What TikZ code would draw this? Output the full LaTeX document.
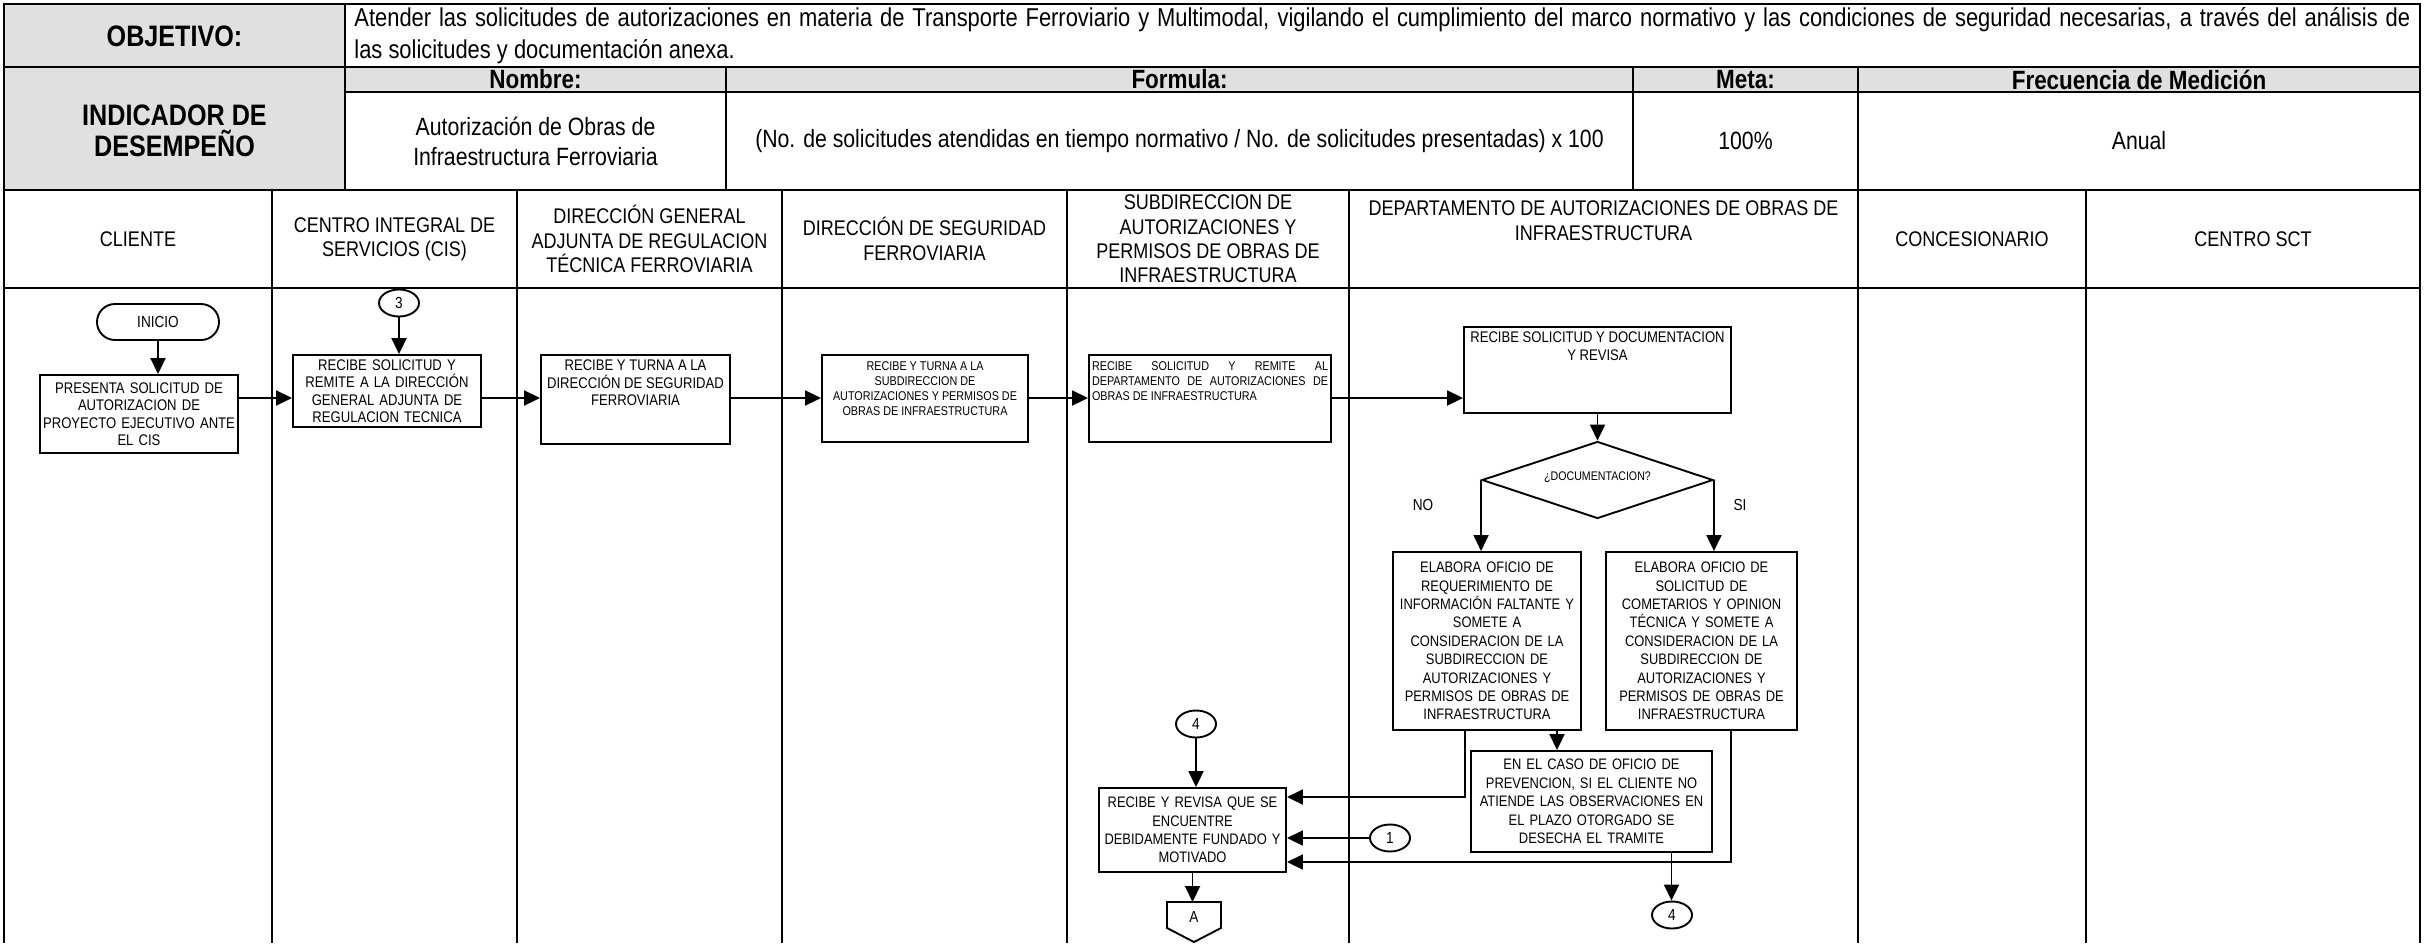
\documentclass[tikz,border=0pt]{standalone}
\usepackage{fontspec}
\setmainfont{Liberation Sans}[FakeStretch=0.85]
\usetikzlibrary{arrows.meta, shapes.geometric}
\definecolor{cellgray}{rgb}{0.88, 0.88, 0.88}

\tikzset{
    rule/.style={line width=1.3pt},
    lane/.style={line width=1.1pt},
    proc/.style={draw, line width=0.95pt, inner sep=1pt, align=center, font=\fontsize{7.7}{8.75}\selectfont},
    tallproc/.style={proc, font=\fontsize{7.6}{9.2}\selectfont},
    topproc/.style={draw, line width=0.95pt, inner sep=1.5pt},
    conn/.style={draw, ellipse, line width=0.95pt, minimum width=20pt, minimum height=13.5pt, inner sep=0pt, font=\fontsize{8}{8}\selectfont},
    flow/.style={line width=0.95pt, -{Triangle[length=8pt, width=7.5pt]}},
    celltitle/.style={align=center, font=\fontsize{14.8}{15.5}\selectfont\bfseries},
    colhead/.style={font=\fontsize{13.2}{14}\selectfont\bfseries},
    coldata/.style={align=center, font=\fontsize{12.5}{15}\selectfont},
    lanehead/.style={align=center, font=\fontsize{10.6}{12.2}\selectfont},
}

\begin{document}
\begin{tikzpicture}[x=0.5pt, y=-0.5pt]
\useasboundingbox (0,0) rectangle (2425,943);

% Table of the indicator
\fill[cellgray] (4,4) rectangle (345,190);
\fill[cellgray] (345,67) rectangle (2420,92);
\draw[rule] (4,943) -- (4,4) -- (2420,4) -- (2420,943);
\draw[rule] (4,67) -- (2420,67);
\draw[rule] (345,4) -- (345,190);
\draw[rule] (345,92) -- (2420,92);
\foreach \x in {726,1633} \draw[rule] (\x,67) -- (\x,190);
\draw[rule] (1858,67) -- (1858,190);
\draw[rule] (4,190) -- (2420,190);
\draw[rule] (4,288) -- (2420,288);

% Lanes
\foreach \x in {272,517,782,1067,1349,1858,2086} \draw[lane] (\x,190) -- (\x,943);

\node[celltitle] (objLbl) at (174.5,36) {OBJETIVO:};
\node[anchor=north west, text width=1028pt, align=justify, inner sep=0pt, font=\fontsize{12.9}{16}\selectfont] (objTxt) at (354,7)
    {Atender las solicitudes de autorizaciones en materia de Transporte Ferroviario y Multimodal, vigilando el cumplimiento del marco normativo y las condiciones de seguridad necesarias, a través del análisis de\linebreak las solicitudes y documentación anexa.};

\node[celltitle] (indLbl) at (174.5,131) {INDICADOR DE\\DESEMPEÑO};
\node[colhead] (hNombre) at (535.5,79.5) {Nombre:};
\node[colhead] (hFormula) at (1179.5,79.5) {Formula:};
\node[colhead] (hMeta) at (1745.5,79.5) {Meta:};
\node[colhead] (hFrec) at (2139,79.5) {Frecuencia de Medición};
\node[coldata] (dNombre) at (535.5,141) {Autorización de Obras de\\Infraestructura Ferroviaria};
\node[coldata] (dFormula) at (1179.5,141) {(No. de solicitudes atendidas en tiempo normativo / No. de solicitudes presentadas) x 100};
\node[coldata] (dMeta) at (1745.5,141) {100\%};
\node[coldata] (dFrec) at (2139,141) {Anual};

% Lane headers
\node[lanehead] (lCliente) at (138,239) {CLIENTE};
\node[lanehead] (lCis) at (394.5,239) {CENTRO INTEGRAL DE\\SERVICIOS (CIS)};
\node[lanehead] (lDga) at (649.5,239) {DIRECCIÓN GENERAL\\ADJUNTA DE REGULACION\\TÉCNICA FERROVIARIA};
\node[lanehead] (lDsf) at (924.5,239) {DIRECCIÓN DE SEGURIDAD\\FERROVIARIA};
\node[lanehead] (lSub) at (1208,239) {SUBDIRECCION DE\\AUTORIZACIONES Y\\PERMISOS DE OBRAS DE\\INFRAESTRUCTURA};
\node[lanehead, anchor=north] (lDept) at (1603.5,194) {DEPARTAMENTO DE AUTORIZACIONES DE OBRAS DE\\INFRAESTRUCTURA};
\node[lanehead] (lConc) at (1972,239) {CONCESIONARIO};
\node[lanehead] (lSct) at (2253,239) {CENTRO SCT};

% Flow
\coordinate (rowY) at (0,398);
\node[draw, line width=0.95pt, rounded corners=9pt, minimum width=61pt, minimum height=18pt, font=\fontsize{8}{8}\selectfont] (inicio) at (158,322) {INICIO};
\node[proc, minimum width=99pt, minimum height=39pt, text width=97.5pt, inner sep=0.5pt] (presenta) at (139,414)
    {PRESENTA SOLICITUD DE\\AUTORIZACION DE\\PROYECTO EJECUTIVO ANTE\\EL CIS};
\node[conn] (c3) at (399,303) {3};
\node[proc, minimum width=94pt, minimum height=36pt, text width=91pt] (recibeSol) at (387,391)
    {RECIBE SOLICITUD Y\\REMITE A LA DIRECCIÓN\\GENERAL ADJUNTA DE\\REGULACION TECNICA};
\node[topproc, font=\fontsize{7.7}{8.75}\selectfont] (turnaDir) at (635.5,399.5)
    {\parbox[c][41.5pt][t]{91.5pt}{\centering\vspace{1pt}RECIBE Y TURNA A LA\\DIRECCIÓN DE SEGURIDAD\\FERROVIARIA}};
\node[topproc, font=\fontsize{6.35}{7.5}\selectfont] (turnaSub) at (925,398.5)
    {\parbox[c][40.5pt][t]{100pt}{\centering\vspace{2pt}RECIBE Y TURNA A LA\\SUBDIRECCION DE\\AUTORIZACIONES Y PERMISOS DE\\OBRAS DE INFRAESTRUCTURA}};
\node[topproc, font=\fontsize{6.35}{7.5}\selectfont] (remite) at (1210,398.5)
    {\parbox[c][40.5pt][t]{118pt}{\vspace{2pt}RECIBE SOLICITUD Y REMITE AL\linebreak DEPARTAMENTO DE AUTORIZACIONES DE\linebreak OBRAS DE INFRAESTRUCTURA}};
\node[topproc, font=\fontsize{7.7}{8.75}\selectfont] (revisa) at (1597.5,370)
    {\parbox[c][40pt][t]{130.5pt}{\centering\vspace{1pt}RECIBE SOLICITUD Y DOCUMENTACION\\Y REVISA}};
\node[draw, diamond, aspect=3, line width=0.95pt, minimum width=115.5pt, minimum height=38.5pt, inner sep=0pt, font=\fontsize{6.25}{7}\selectfont] (doc) at (1597.5,480)
    {\raisebox{4pt}{¿DOCUMENTACION?}};
\node[font=\fontsize{8}{8}\selectfont] (lblNo) at (1423,505) {NO};
\node[font=\fontsize{8}{8}\selectfont] (lblSi) at (1740,505) {SI};
\node[tallproc, minimum width=94pt, minimum height=89pt, text width=91pt] (elabNo) at (1487,641)
    {ELABORA OFICIO DE\\REQUERIMIENTO DE\\INFORMACIÓN FALTANTE Y\\SOMETE A\\CONSIDERACION DE LA\\SUBDIRECCION DE\\AUTORIZACIONES Y\\PERMISOS DE OBRAS DE\\INFRAESTRUCTURA};
\node[tallproc, minimum width=95.5pt, minimum height=89pt, text width=92pt] (elabSi) at (1701.5,641)
    {ELABORA OFICIO DE\\SOLICITUD DE\\COMETARIOS Y OPINION\\TÉCNICA Y SOMETE A\\CONSIDERACION DE LA\\SUBDIRECCION DE\\AUTORIZACIONES Y\\PERMISOS DE OBRAS DE\\INFRAESTRUCTURA};
\node[tallproc, minimum width=120.5pt, minimum height=50.5pt, text width=117pt] (caso) at (1591.5,801.5)
    {EN EL CASO DE OFICIO DE\\PREVENCION, SI EL CLIENTE NO\\ATIENDE LAS OBSERVACIONES EN\\EL PLAZO OTORGADO SE\\DESECHA EL TRAMITE};
\node[conn] (c4a) at (1196,724) {4};
\node[tallproc, minimum width=93.5pt, minimum height=42pt, text width=90pt] (recRev) at (1192.5,830)
    {RECIBE Y REVISA QUE SE\\ENCUENTRE\\DEBIDAMENTE FUNDADO Y\\MOTIVADO};
\node[conn] (c1) at (1390,838) {1};
\node[conn] (c4b) at (1672,915) {4};
\coordinate (offA) at (1194,902);
\draw[line width=0.95pt] (offA) +(-27,0) -- +(27,0) -- +(27,26) -- +(0,40) -- +(-27,26) -- cycle;
\node[font=\fontsize{8}{8}\selectfont] (offAtxt) at (1194,917) {A};

\draw[flow] (inicio.south) -- (inicio.south |- presenta.north);
\draw[flow] (c3.south) -- (c3.south |- recibeSol.north);
\draw[flow] (presenta.east |- rowY) -- (recibeSol.west |- rowY);
\draw[flow] (recibeSol.east |- rowY) -- (turnaDir.west |- rowY);
\draw[flow] (turnaDir.east |- rowY) -- (turnaSub.west |- rowY);
\draw[flow] (turnaSub.east |- rowY) -- (remite.west |- rowY);
\draw[flow] (remite.east |- rowY) -- (revisa.west |- rowY);
\draw[flow] (revisa.south) -- (doc.north);
\draw[flow] (doc.west) -- (doc.west |- elabNo.north);
\draw[flow] (doc.east) -- (doc.east |- elabSi.north);
\draw[flow] ([xshift=-11pt]elabNo.south) |- ([yshift=16.5pt]recRev.east);
\draw[flow] ([xshift=35pt]elabNo.south) -- ([xshift=35pt]elabNo.south |- caso.north);
\draw[flow] ([xshift=14.75pt]elabSi.south) |- ([yshift=-16pt]recRev.east);
\draw[flow] (c1.west) -- (c1.west -| recRev.east);
\draw[flow] ([xshift=40pt]caso.south) -- ([xshift=40pt]caso.south |- c4b.north);
\draw[flow] (c4a.south) -- (c4a.south |- recRev.north);
\draw[flow] (recRev.south) -- (recRev.south |- offA);
\end{tikzpicture}
\end{document}
